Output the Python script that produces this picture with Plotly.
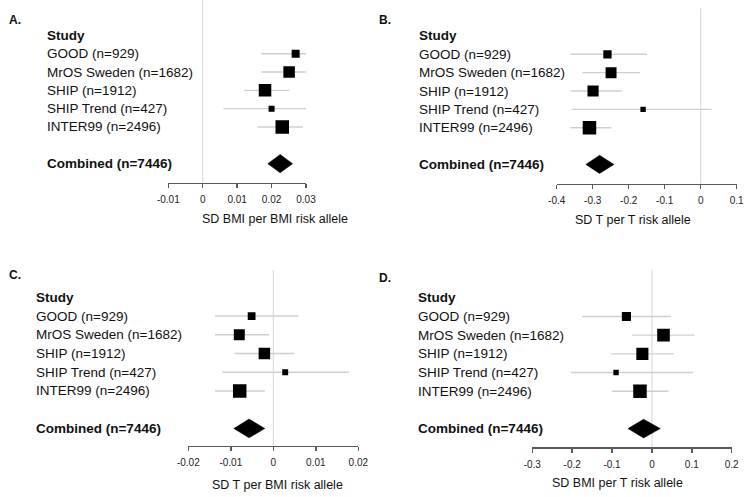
import plotly.graph_objects as go
import numpy as np

W, H = 745, 497

# ---------------- data ----------------
studies = ["GOOD (n=929)", "MrOS Sweden (n=1682)", "SHIP (n=1912)",
           "SHIP Trend (n=427)", "INTER99 (n=2496)"]
combined_label = "Combined (n=7446)"
header_label = "Study"
panel_letters = ["A.", "B.", "C.", "D."]
axis_titles = ["SD BMI per BMI risk allele", "SD T per T risk allele",
               "SD T per BMI risk allele", "SD BMI per T risk allele"]

# Panel A
a_est = [0.0270, 0.0251, 0.0181, 0.0200, 0.0231]
a_lo = [0.0170, 0.0170, 0.0121, 0.0060, 0.0159]
a_hi = [0.0372, 0.0322, 0.0252, 0.0353, 0.0291]
a_weight = [11.2, 23.2, 27.4, 6.3, 31.9]
a_comb = [0.0189, 0.0225, 0.0261]  # lo, est, hi
a_tickvals = [-0.01, 0, 0.01, 0.02, 0.03]
a_ticktext = ["-0.01", "0", "0.01", "0.02", "0.03"]

# Panel B
b_est = [-0.259, -0.249, -0.299, -0.160, -0.309]
b_lo = [-0.362, -0.329, -0.362, -0.359, -0.362]
b_hi = [-0.149, -0.169, -0.219, 0.030, -0.248]
b_weight = [13.1, 22.9, 23.7, 5.5, 34.7]
b_comb = [-0.319, -0.281, -0.241]
b_tickvals = [-0.4, -0.3, -0.2, -0.1, 0, 0.1]
b_ticktext = ["-0.4", "-0.3", "-0.2", "-0.1", "0", "0.1"]

# Panel C
c_est = [-0.0051, -0.0080, -0.0021, 0.0028, -0.0079]
c_lo = [-0.0137, -0.0137, -0.0091, -0.0120, -0.0137]
c_hi = [0.0059, -0.0010, 0.0049, 0.0178, -0.0020]
c_weight = [11.5, 22.7, 24.9, 6.6, 34.4]
c_comb = [-0.0093, -0.0057, -0.0020]
c_tickvals = [-0.02, -0.01, 0, 0.01, 0.02]
c_ticktext = ["-0.02", "-0.01", "0", "0.01", "0.02"]

# Panel D
d_est = [-0.064, 0.029, -0.024, -0.090, -0.030]
d_lo = [-0.174, -0.050, -0.103, -0.203, -0.100]
d_hi = [0.048, 0.107, 0.055, 0.103, 0.042]
d_weight = [13.8, 26.5, 24.4, 4.9, 30.4]
d_comb = [-0.060, -0.021, 0.021]
d_tickvals = [-0.3, -0.2, -0.1, 0, 0.1, 0.2]
d_ticktext = ["-0.3", "-0.2", "-0.1", "0", "0.1", "0.2"]

# ---------------- layout helpers ----------------
def fx(p):
    return p / W

def fy(p):
    return 1 - p / H

panels = [
    dict(est=a_est, lo=a_lo, hi=a_hi, w=a_weight, comb=a_comb, tv=a_tickvals, tt=a_ticktext,
         xr=[-0.01, 0.03], xd=(168.3, 306.0), yd=(0, 182.7), yr=[8.04, -1.93], zt=1.0,
         lx=45, letter=(7, 20), title=(275, 219)),
    dict(est=b_est, lo=b_lo, hi=b_hi, w=b_weight, comb=b_comb, tv=b_tickvals, tt=b_ticktext,
         xr=[-0.4, 0.1], xd=(556.7, 736.7), yd=(0, 183.5), yr=[8.04, -1.96], zt=0.956,
         lx=417, letter=(377, 20), title=(633, 220)),
    dict(est=c_est, lo=c_lo, hi=c_hi, w=c_weight, comb=c_comb, tv=c_tickvals, tt=c_ticktext,
         xr=[-0.02, 0.02], xd=(188.3, 358.3), yd=(260, 445.7), yr=[7.92, -1.99], zt=0.946,
         lx=33.5, letter=(7, 275), title=(277, 485)),
    dict(est=d_est, lo=d_lo, hi=d_hi, w=d_weight, comb=d_comb, tv=d_tickvals, tt=d_ticktext,
         xr=[-0.3, 0.2], xd=(532.3, 731.7), yd=(260, 447.3), yr=[8.0, -2.02], zt=0.947,
         lx=416, letter=(377, 278), title=(617, 483)),
]

rows = [1, 2, 3, 4, 5]
comb_row = 7
header_row = 0

fig = go.Figure()
annotations = []
shapes = []
layout_axes = {}

FONT = "Liberation Sans, Arial, sans-serif"
label_font = dict(family=FONT, size=13.5, color="#111111")

for i, p in enumerate(panels):
    n = i + 1
    xa = "x" if n == 1 else f"x{n}"
    ya = "y" if n == 1 else f"y{n}"
    xkey = "xaxis" if n == 1 else f"xaxis{n}"
    ykey = "yaxis" if n == 1 else f"yaxis{n}"

    est = np.array(p["est"])
    lo = np.array(p["lo"])
    hi = np.array(p["hi"])
    wts = np.array(p["w"])
    sizes = 13.5 * np.sqrt(wts / wts.max())

    # confidence interval lines
    ci_x, ci_y = [], []
    for l, h, r in zip(lo, hi, rows):
        ci_x += [l, h, None]
        ci_y += [r, r, None]
    fig.add_trace(go.Scatter(x=ci_x, y=ci_y, mode="lines", xaxis=xa, yaxis=ya,
                             line=dict(color="#cfcfcf", width=1.4), showlegend=False,
                             hoverinfo="skip"))

    fig.add_trace(go.Scatter(
        x=est, y=rows, mode="markers", xaxis=xa, yaxis=ya, showlegend=False,
        marker=dict(symbol="square", color="#000000", opacity=1, size=sizes,
                    line=dict(width=0)),
    ))

    lo_c, est_c, hi_c = p["comb"]
    fig.add_trace(go.Scatter(
        x=[lo_c, est_c, hi_c, est_c, lo_c],
        y=[comb_row, comb_row - 0.5, comb_row, comb_row + 0.5, comb_row],
        mode="lines", fill="toself", fillcolor="black",
        line=dict(color="black", width=0.5), xaxis=xa, yaxis=ya, showlegend=False,
    ))

    layout_axes[xkey] = dict(
        domain=[fx(p["xd"][0]), fx(p["xd"][1])], range=p["xr"], anchor=ya,
        automargin=False,
        showline=True, linecolor="#5a5a5a", linewidth=1.5, ticks="outside", ticklen=4,
        tickwidth=1.5, tickcolor="#5a5a5a", showgrid=False, zeroline=False,
        tickvals=p["tv"], ticktext=p["tt"], ticklabelstandoff=3,
        tickfont=dict(family=FONT, size=10, color="#222222"),
    )
    layout_axes[ykey] = dict(
        domain=[fy(p["yd"][1]), fy(p["yd"][0])], range=p["yr"], anchor=xa,
        automargin=False, visible=False, showgrid=False, zeroline=False,
    )

    shapes.append(dict(type="line", xref=xa, x0=0, x1=0, yref=f"{ya} domain", y0=0, y1=p["zt"],
                       line=dict(color="#d6d6d6", width=1), layer="below"))

    annotations.append(dict(text="<b>" + header_label + "</b>", x=fx(p["lx"]), xref="paper",
                            y=header_row, yref=ya, xanchor="left", yanchor="middle",
                            showarrow=False, font=label_font))
    for r, s in zip(rows, studies):
        annotations.append(dict(text=s, x=fx(p["lx"]), xref="paper", y=r, yref=ya,
                                xanchor="left", yanchor="middle", showarrow=False,
                                font=label_font))
    annotations.append(dict(text="<b>" + combined_label + "</b>", x=fx(p["lx"]), xref="paper",
                            y=comb_row, yref=ya, xanchor="left", yanchor="middle",
                            showarrow=False, font=label_font))
    annotations.append(dict(text="<b>" + panel_letters[i] + "</b>", x=fx(p["letter"][0]),
                            xref="paper", y=fy(p["letter"][1]), yref="paper",
                            xanchor="left", yanchor="middle", showarrow=False,
                            font=dict(family=FONT, size=12, color="#111111")))
    annotations.append(dict(text=axis_titles[i], x=fx(p["title"][0]), xref="paper",
                            y=fy(p["title"][1]), yref="paper", xanchor="center",
                            yanchor="middle", showarrow=False,
                            font=dict(family=FONT, size=12.5, color="#111111")))

fig.update_layout(
    width=W, height=H, margin=dict(l=0, r=0, t=0, b=0, autoexpand=False),
    paper_bgcolor="white", plot_bgcolor="white", hovermode=False,
    annotations=annotations, shapes=shapes, showlegend=False,
    **layout_axes,
)

fig.write_html("out.html", config={"displayModeBar": False, "staticPlot": True},
               post_script="document.body.style.margin='0';")
